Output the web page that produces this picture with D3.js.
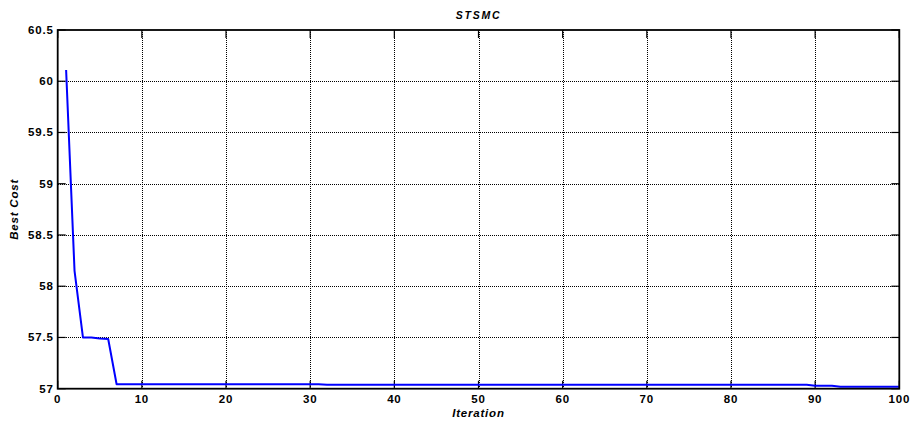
<!DOCTYPE html>
<html>
<head>
<meta charset="utf-8">
<script src="https://cdn.jsdelivr.net/npm/d3@7"></script>
<style>
  html, body { margin: 0; padding: 0; background: #fff; }
  svg { display: block; }
  text { font-family: "Liberation Sans", Arial, Helvetica, sans-serif; font-weight: bold; fill: #000; }
</style>
</head>
<body>
<svg id="chart" width="911" height="424"></svg>
<script>
// Best cost per iteration of the STSMC tuning run
const bestCost = [
  60.11, 58.15, 57.50, 57.50, 57.49, 57.485, 57.043, 57.043, 57.043, 57.043,
  57.043, 57.043, 57.043, 57.043, 57.043, 57.043, 57.043, 57.043, 57.043, 57.043,
  57.043, 57.043, 57.043, 57.043, 57.043, 57.043, 57.043, 57.043, 57.043, 57.043,
  57.043, 57.038, 57.038, 57.038, 57.038, 57.038, 57.038, 57.038, 57.038, 57.038,
  57.038, 57.038, 57.038, 57.038, 57.038, 57.038, 57.038, 57.038, 57.038, 57.038,
  57.038, 57.038, 57.038, 57.038, 57.038, 57.038, 57.038, 57.038, 57.038, 57.038,
  57.038, 57.038, 57.038, 57.038, 57.038, 57.038, 57.038, 57.038, 57.038, 57.038,
  57.038, 57.038, 57.038, 57.038, 57.038, 57.038, 57.038, 57.038, 57.038, 57.038,
  57.038, 57.038, 57.038, 57.038, 57.038, 57.038, 57.038, 57.038, 57.038, 57.029,
  57.029, 57.029, 57.020, 57.020, 57.020, 57.020, 57.020, 57.020, 57.020, 57.020
];
const xTicks = [0, 10, 20, 30, 40, 50, 60, 70, 80, 90, 100];
const yTicks = [57, 57.5, 58, 58.5, 59, 59.5, 60, 60.5];
const titleText = "STSMC";
const xLabel = "Iteration";
const yLabel = "Best Cost";

const svg = d3.select("#chart");
const m = { left: 57.7, right: 899.3, top: 30, bottom: 388.7 };

const x = d3.scaleLinear().domain([0, 100]).range([m.left, m.right]);
const y = d3.scaleLinear().domain([57, 60.5]).range([m.bottom, m.top]);

// dotted grid
const grid = svg.append("g").attr("stroke", "#000").attr("stroke-width", 1)
  .attr("stroke-dasharray", "1,1").attr("shape-rendering", "crispEdges");
grid.selectAll("line.gx").data(xTicks.slice(1, -1)).join("line")
  .attr("x1", d => Math.round(x(d)) + 0.5).attr("x2", d => Math.round(x(d)) + 0.5)
  .attr("y1", m.top).attr("y2", m.bottom);
grid.selectAll("line.gy").data(yTicks.slice(1, -1)).join("line")
  .attr("y1", d => Math.round(y(d)) + 0.5).attr("y2", d => Math.round(y(d)) + 0.5)
  .attr("x1", m.left).attr("x2", m.right);

// inward ticks on all four sides
const tickLen = 8;
const ticks = svg.append("g").attr("stroke", "#000").attr("stroke-width", 1.2);
ticks.selectAll("line.xb").data(xTicks).join("line")
  .attr("x1", d => x(d)).attr("x2", d => x(d)).attr("y1", m.bottom).attr("y2", m.bottom - tickLen);
ticks.selectAll("line.xt").data(xTicks).join("line")
  .attr("x1", d => x(d)).attr("x2", d => x(d)).attr("y1", m.top).attr("y2", m.top + tickLen);
ticks.selectAll("line.yl").data(yTicks).join("line")
  .attr("y1", d => y(d)).attr("y2", d => y(d)).attr("x1", m.left).attr("x2", m.left + tickLen);
ticks.selectAll("line.yr").data(yTicks).join("line")
  .attr("y1", d => y(d)).attr("y2", d => y(d)).attr("x1", m.right).attr("x2", m.right - tickLen);

// data line
const line = d3.line().x((d, i) => x(i + 1)).y(d => y(d));
svg.append("path").datum(bestCost)
  .attr("d", line).attr("fill", "none").attr("stroke", "#0000ff")
  .attr("stroke-width", 2).attr("stroke-linejoin", "round");

// axes box
svg.append("rect").attr("x", m.left).attr("y", m.top)
  .attr("width", m.right - m.left).attr("height", m.bottom - m.top)
  .attr("fill", "none").attr("stroke", "#000").attr("stroke-width", 1.8);

// tick labels
svg.append("g").selectAll("text").data(xTicks).join("text")
  .attr("x", d => x(d)).attr("y", m.bottom + 14)
  .attr("text-anchor", "middle").attr("font-size", "11.5px")
  .attr("letter-spacing", "0.8px")
  .text(d => d);
const fmtY = d => (Number.isInteger(d) ? d3.format("d")(d) : d3.format(".1f")(d));
svg.append("g").selectAll("text").data(yTicks).join("text")
  .attr("x", m.left - 4).attr("y", d => y(d) + 4)
  .attr("text-anchor", "end").attr("font-size", "11.5px")
  .attr("letter-spacing", "0.8px")
  .text(fmtY);

// title and axis labels
svg.append("text").attr("x", (m.left + m.right) / 2).attr("y", 18.5)
  .attr("text-anchor", "middle").attr("font-size", "10.5px").attr("font-style", "italic")
  .attr("letter-spacing", "1.8px").text(titleText);
svg.append("text").attr("x", (m.left + m.right) / 2).attr("y", 417)
  .attr("text-anchor", "middle").attr("font-size", "11.5px").attr("font-style", "italic")
  .attr("letter-spacing", "0.8px").text(xLabel);
svg.append("text").attr("transform", `translate(18,${(m.top + m.bottom) / 2}) rotate(-90)`)
  .attr("text-anchor", "middle").attr("font-size", "11.5px").attr("font-style", "italic")
  .attr("letter-spacing", "0.8px").text(yLabel);
</script>
</body>
</html>
